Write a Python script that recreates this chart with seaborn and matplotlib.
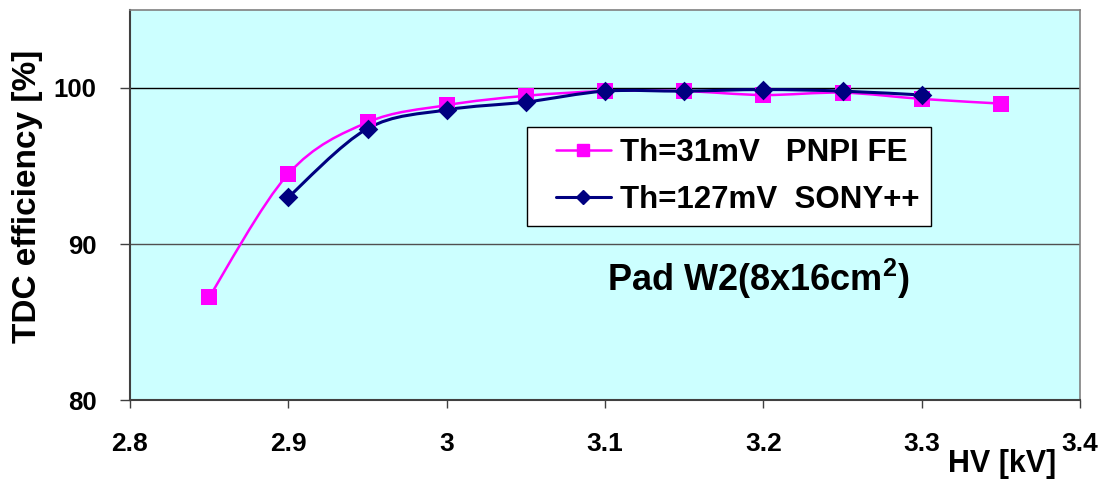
import numpy as np
import pandas as pd
import seaborn as sns
import matplotlib.pyplot as plt
from matplotlib.path import Path
from matplotlib.patches import PathPatch
from matplotlib.lines import Line2D
from matplotlib.legend_handler import HandlerLine2D

# data
hv_pnpi = [2.85, 2.90, 2.95, 3.00, 3.05, 3.10, 3.15, 3.20, 3.25, 3.30, 3.35]
eff_pnpi = [86.6, 94.5, 97.8, 98.9, 99.5, 99.8, 99.8, 99.55, 99.7, 99.3, 99.0]
hv_sony = [2.90, 2.95, 3.00, 3.05, 3.10, 3.15, 3.20, 3.25, 3.30]
eff_sony = [93.0, 97.4, 98.6, 99.1, 99.8, 99.8, 99.9, 99.8, 99.55]
label_pnpi = "Th=31mV   PNPI FE"
label_sony = "Th=127mV  SONY++"
x_ticks = [2.8, 2.9, 3.0, 3.1, 3.2, 3.3, 3.4]
x_tick_labels = ["2.8", "2.9", "3", "3.1", "3.2", "3.3", "3.4"]
y_ticks = [80, 90, 100]

sns.set_theme(style="white")
plt.rcParams['font.family'] = ['Liberation Sans', 'DejaVu Sans']
plt.rcParams['font.weight'] = 'bold'
plt.rcParams['mathtext.fontset'] = 'custom'
plt.rcParams['mathtext.bf'] = 'Liberation Sans:bold'
plt.rcParams['mathtext.rm'] = 'Liberation Sans:bold'
for key in ['text.color', 'axes.labelcolor', 'xtick.color', 'ytick.color']:
    plt.rcParams[key] = 'black'

fig = plt.figure(figsize=(11.13, 4.87), dpi=100)
ax = fig.add_axes([0.1168, 0.1786, 0.8536, 0.8009])
ax.set_facecolor('#CCFFFF')


def smooth_path(xs, ys):
    # Catmull-Rom -> cubic Bezier, like Excel's smoothed line
    p = np.column_stack([xs, ys]).astype(float)
    ext = np.vstack([p[0], p, p[-1]])
    verts = [p[0]]
    codes = [Path.MOVETO]
    for i in range(1, len(ext) - 2):
        p0, p1, p2, p3 = ext[i - 1], ext[i], ext[i + 1], ext[i + 2]
        c1 = p1 + (p2 - p0) / 6.0
        c2 = p2 - (p3 - p1) / 6.0
        verts += [c1, c2, p2]
        codes += [Path.CURVE4] * 3
    return Path(verts, codes)


pink = '#FF00FF'
navy = '#000080'

ax.add_patch(PathPatch(smooth_path(hv_pnpi, eff_pnpi), fill=False,
                       edgecolor=pink, lw=1.8, zorder=3))
ax.add_patch(PathPatch(smooth_path(hv_sony, eff_sony), fill=False,
                       edgecolor=navy, lw=2.2, zorder=4))

df_pnpi = pd.DataFrame({'hv': hv_pnpi, 'eff': eff_pnpi})
df_sony = pd.DataFrame({'hv': hv_sony, 'eff': eff_sony})
sns.scatterplot(data=df_pnpi, x='hv', y='eff', marker='s', s=140,
                color=pink, edgecolor=pink, linewidth=0, ax=ax, zorder=5)
sns.scatterplot(data=df_sony, x='hv', y='eff', marker='D', s=100,
                color=navy, edgecolor=navy, linewidth=0, ax=ax, zorder=6)

ax.set_xlim(2.8, 3.4)
ax.set_ylim(80, 105)
ax.set_xticks(x_ticks)
ax.set_xticklabels(x_tick_labels)
ax.set_yticks(y_ticks)
ax.tick_params(axis='x', direction='out', length=6, width=1, color='#404040',
               pad=17, labelsize=19)
ax.tick_params(axis='y', direction='out', length=7, width=1, color='#404040',
               pad=17, labelsize=18.5)
ax.tick_params(bottom=True, left=True)
for lbl in ax.get_xticklabels() + ax.get_yticklabels():
    lbl.set_fontweight('bold')

for y in [90, 100]:
    ax.axhline(y, color='black' if y == 100 else '#505050', lw=1, zorder=1)

for side in ['left', 'bottom']:
    ax.spines[side].set_color('#404040')
    ax.spines[side].set_linewidth(1.5)
for side in ['top', 'right']:
    ax.spines[side].set_color('#808080')
    ax.spines[side].set_linewidth(1.2)

ax.set_xlabel('')
ax.set_ylabel('TDC efficiency [%]', fontsize=24, fontweight='bold')
ax.yaxis.set_label_coords(-0.092, 0.523)
ax.text(0.918, -0.164, 'HV [kV]', transform=ax.transAxes, ha='center',
        va='center', fontsize=22, fontweight='bold')

ax.text(0.661, 0.31, r'Pad W2(8x16cm$^\mathbf{2}$)', transform=ax.transAxes,
        ha='center', va='center', fontsize=26, fontweight='bold')

handles = [
    Line2D([], [], color=pink, lw=1.8, marker='s', markersize=9),
    Line2D([], [], color=navy, lw=2.2, marker='D', markersize=7),
]
hmap = {h: HandlerLine2D(xpad=0.56) for h in handles}
leg = ax.legend(handles, [label_pnpi, label_sony], loc='upper left',
                bbox_to_anchor=(0.418, 0.70), frameon=True, fancybox=False,
                edgecolor='black', facecolor='white', framealpha=1,
                prop={'size': 22.5, 'weight': 'bold'}, handlelength=2.33,
                handletextpad=0.3, borderpad=0.35, labelspacing=0.55,
                borderaxespad=0, handler_map=hmap)
leg.get_frame().set_linewidth(1)
leg.set_zorder(10)

fig.savefig('out.png', dpi=100)
